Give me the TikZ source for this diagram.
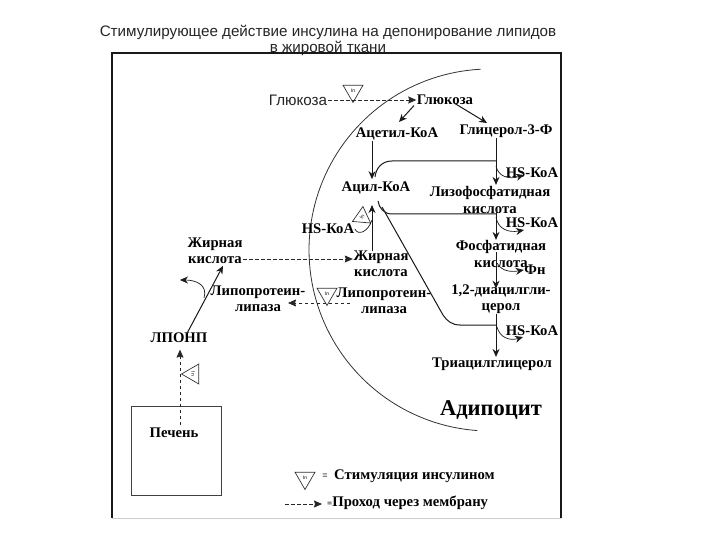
\documentclass[tikz,border=0pt]{standalone}
\usepackage{fontspec}
\setmainfont{Liberation Serif}
\newfontfamily\arialf{Liberation Sans}
\usetikzlibrary{shapes.geometric,arrows.meta}
\tikzset{
  lbl/.style={font=\bfseries\fontsize{14.7}{16.5}\selectfont,align=center,inner sep=0.5pt,text=black},
  sans/.style={font=\arialf\fontsize{15.2}{16}\selectfont,align=center,inner sep=1pt,text=black!85},
  lnn/.style={draw=black!90,line width=1pt},
  arr/.style={lnn,-{Stealth[length=8pt,width=7pt]}},
  dashln/.style={draw=black!85,line width=0.8pt,dash pattern=on 3.5pt off 2.5pt},
  darr/.style={dashln,-{Stealth[length=8pt,width=7pt,inset=1pt]}},
  ins/.style={draw=black!80,line width=0.7pt,regular polygon,regular polygon sides=3,shape border rotate=180,minimum size=23pt,inner sep=0pt,font=\arialf\fontsize{5}{5}\selectfont},
}
\begin{document}
\begin{tikzpicture}[x=1pt,y=-1pt]
\useasboundingbox (0,0) rectangle (720,540);
\fill[white] (0,0) rectangle (720,540);
% titles
\node[sans] (title) at (328,40) {Стимулирующее действие инсулина на депонирование липидов\\в жировой ткани};
% frame
\coordinate (fa) at (112,518); \coordinate (fb) at (112,53); \coordinate (fc) at (561,53); \coordinate (fd) at (561,518);
\draw[black!20,line width=0.8pt] (fa) -- (fd);
\draw[black!90,line width=1.8pt] (fa) -- (fb) -- (fc) -- (fd);
% cell membrane
\draw[black!80,line width=0.8pt] plot[domain=93:266,samples=90] ({490+181*cos(\x)},{250-181*sin(\x)});
% labels
\node[sans] (gluout) at (298,100) {Глюкоза};
\node[lbl] (gluin) at (445,100) {Глюкоза};
\node[lbl] (acetyl) at (397,134) {Ацетил-КоА};
\node[lbl] (gly) at (506,131) {Глицерол-3-Ф};
\node[lbl] (acyl) at (376,188) {Ацил-КоА};
\node[lbl] (hs1) at (532,173) {HS-КоА};
\node[lbl] (lyso) at (490,200) {Лизофосфатидная\\кислота};
\node[lbl] (hs2) at (532,223) {HS-КоА};
\node[lbl] (phos) at (501,254) {Фосфатидная\\кислота};
\node[lbl] (fn) at (535,270) {Фн};
\node[lbl] (hs3) at (328,229) {HS-КоА};
\node[lbl] (fain) at (381,264) {Жирная\\кислота};
\node[lbl] (lplin) at (384,301) {Липопротеин-\\липаза};
\node[lbl] (diac) at (501,299) {1,2-диацилгли-\\церол};
\node[lbl] (hs4) at (532,331) {HS-КоА};
\node[lbl] (tag) at (492,364) {Триацилглицерол};
\node[lbl,font=\bfseries\fontsize{22.5}{24}\selectfont] (adip) at (491,410) {Адипоцит};
\node[lbl] (faout) at (215,251) {Жирная\\кислота};
\node[lbl] (lplout) at (258,299) {Липопротеин-\\липаза};
\node[lbl] (lponp) at (179,338) {ЛПОНП};
\node[draw=black!75,line width=0.8pt,minimum width=90pt,minimum height=89pt] (liverbox) at (176,450.5) {};
\node[lbl] (liver) at (174,433) {Печень};
% insulin triangles
\node[ins] (in1) at (353,91) {In};
\node[ins] (in2) at (327,294) {In};
\node[ins,rotate=-90] (in3) at (193,374) {In};
\node[ins,rotate=55,minimum size=21pt] (in4) at (362,217) {In};
\node[ins] (in5) at (305,478) {In};
% legend
\node[lbl,font=\arialf\fontsize{9}{10}\selectfont,inner sep=0pt] (eq1) at (325,476) {=};
\node[lbl,anchor=west,inner sep=0pt] (leg1) at (334,476) {Стимуляция инсулином};
\coordinate (dl) at (285,504);
\node[lbl,anchor=west,inner sep=0pt] (leg2) at (327,503) {\fontsize{9}{10}\selectfont=\fontsize{14.7}{16}\selectfont Проход через мембрану};
\draw[darr] (dl) -- ([xshift=-5pt,yshift=-1pt]leg2.west);
% glucose
\draw[darr] (gluout.east) -- (gluin.west);
\draw[arr] ([xshift=-31pt]gluin.south) -- (399,122) coordinate (aceta);
\draw[arr] ([xshift=10pt,yshift=2pt]gluin.south) -- (487,123) coordinate (glya);
% main verticals
\draw[arr] ([xshift=-25pt]acetyl.south) -- ([xshift=-4pt,yshift=2pt]acyl.north);
\draw[arr] ([xshift=-10pt]gly.south) -- ([xshift=6pt,yshift=1pt]lyso.north);
\draw[arr] ([xshift=6pt,yshift=5pt]lyso.south) -- ([xshift=-5pt]phos.north);
\draw[arr] ([xshift=-5pt,yshift=16pt]phos.south) -- ([xshift=-5pt,yshift=-5pt]diac.north);
\draw[arr] ([xshift=-5pt]diac.south) -- ([xshift=4pt]tag.north);
\draw[arr] ([xshift=-9pt,yshift=-1pt]fain.north) -- (372,205) coordinate (acylb);
% acyl-CoA side branches
\coordinate (j1) at (496,161); \coordinate (j2) at (496,214); \coordinate (j3) at (496,325);
\draw[lnn] (j1) -- (392,161) .. controls (382,161) and (376,168) .. (375,177);
\draw[lnn] (j2) -- (392,214) .. controls (384,214) and (379,208) .. (378,201);
\draw[lnn] (382,207) coordinate (dtop) -- (443,315) .. controls (447,321) and (452,325) .. (460,325) -- (j3);
% HS-CoA curves
\draw[arr,line width=0.7pt] (496,166) .. controls (498,176) and (508,180) .. (524,175);
\draw[arr,line width=0.7pt] (496,217) .. controls (498,229) and (508,233) .. (524,230);
\draw[arr,line width=0.7pt] (497,263) .. controls (502,272) and (512,272) .. (fn.west);
\draw[arr,line width=0.7pt] (497,327) .. controls (500,338) and (510,341) .. (523,337);
\draw[lnn,line width=0.7pt] (372,220) .. controls (368,232) and (358,236) .. (hs3.east);
% transport
\draw[darr] (faout.east |- 0,259) -- (fain.west |- 0,259);
\draw[darr] (350,303) coordinate (lplr) -- (288,303) coordinate (lpll);
\draw[arr] ([xshift=8pt,yshift=-1pt]lponp.north) -- ([xshift=8pt,yshift=-1pt]faout.south);
\draw[arr,line width=0.7pt] (204,298) .. controls (208,285) and (196,280) .. (180,280) coordinate (cl);
\draw[darr] ([xshift=6pt,yshift=2pt]liver.north) -- ([xshift=1pt,yshift=-6pt]lponp.south);
\end{tikzpicture}
\end{document}
